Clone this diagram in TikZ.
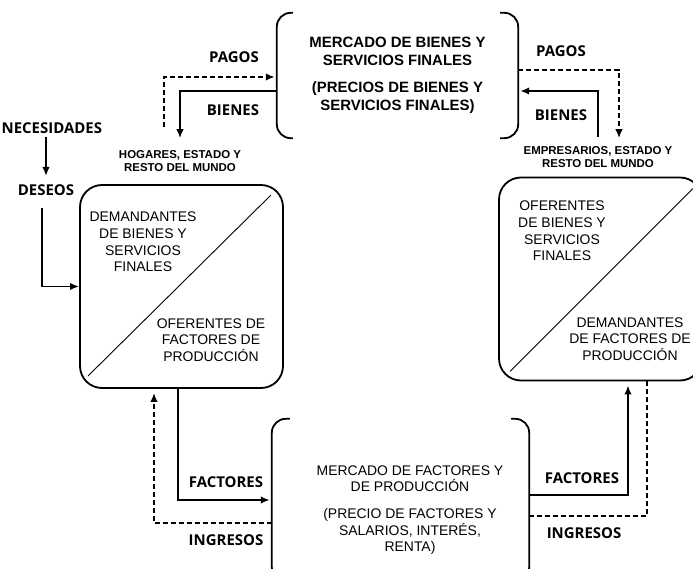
\documentclass[tikz,border=0pt]{standalone}
\usepackage{fontspec}
\setmainfont{Liberation Sans}
\newfontfamily\rotfont{Open Sans}
\usepackage{tikz}
\usetikzlibrary{arrows.meta}

\begin{document}
\begin{tikzpicture}[x=1bp,y=-1bp,
		>={Latex[length=9bp,width=7.5bp]},
		flujo/.style={draw,line width=1.8bp},
		pago/.style={draw,line width=1.8bp,dash pattern=on 5bp off 3bp},
		rotulo/.style={font=\rotfont\bfseries\fontsize{15}{17}\selectfont},
		agente/.style={align=center,font=\bfseries\fontsize{11.5}{12.5}\selectfont},
		caja/.style={rectangle,draw,line width=1.8bp,rounded corners=22bp,minimum width=203bp,minimum height=203bp},
		texto/.style={align=center,font=\fontsize{14}{16.7}\selectfont},
		titulo/.style={align=center,font=\bfseries\fontsize{15}{18}\selectfont},
		mercado/.style={rectangle,inner sep=0pt},
		llave/.style={line width=1.8bp,rounded corners=14bp}]
			\useasboundingbox (0,0) rectangle (693,569);
			
			% mercados
			\node[mercado,titulo,minimum width=241bp,minimum height=125bp] (mbs) at (397.5,75.5) {MERCADO DE BIENES Y\\SERVICIOS FINALES\\[9bp](PRECIOS DE BIENES Y\\SERVICIOS FINALES)};
			\node[mercado,minimum width=257bp,minimum height=148bp] (mfp) at (400.5,493) {};
			\node[texto] (tmfp) at (410,510) {MERCADO DE FACTORES Y\\DE PRODUCCIÓN\\[10bp](PRECIO DE FACTORES Y\\SALARIOS, INTERÉS,\\RENTA)};
			\draw[llave] ([xshift=16bp]mbs.north west) -- (mbs.north west) -- (mbs.south west) -- ([xshift=16bp]mbs.south west);
			\draw[llave] ([xshift=-18bp]mbs.north east) -- (mbs.north east) -- (mbs.south east) -- ([xshift=-18bp]mbs.south east);
			\draw[llave] ([xshift=18bp]mfp.north west) -- (mfp.north west) -- ([yshift=-14bp]mfp.south west) -- ([xshift=18bp,yshift=-14bp]mfp.south west);
			\draw[llave] ([xshift=-18bp]mfp.north east) -- (mfp.north east) -- ([yshift=-14bp]mfp.south east) -- ([xshift=-18bp,yshift=-14bp]mfp.south east);
			
			% agentes
			\node[agente] (hogl) at (180,161) {HOGARES, ESTADO Y\\RESTO DEL MUNDO};
			\node[agente] (empl) at (598,157) {EMPRESARIOS, ESTADO Y\\RESTO DEL MUNDO};
			\node[caja] (hog) at (181.5,286.5) {};
			\node[caja] (emp) at (600.5,279) {};
			\draw[line width=0.9bp] ([shift={(9,-13)}]hog.south west) -- ([shift={(-13,11)}]hog.north east);
			\draw[line width=0.9bp] ([shift={(12,-10)}]emp.south west) -- ([shift={(-10,12)}]emp.north east);
			\node[texto] (dbs) at (143,242) {DEMANDANTES\\DE BIENES Y\\SERVICIOS\\FINALES};
			\node[texto] (ofp) at (211,340) {OFERENTES DE\\FACTORES DE\\PRODUCCIÓN};
			\node[texto] (obs) at (562,231) {OFERENTES\\DE BIENES Y\\SERVICIOS\\FINALES};
			\node[texto] (dfp) at (630,339) {DEMANDANTES\\DE FACTORES DE\\PRODUCCIÓN};
			
			\node[rotulo,anchor=west,inner sep=0.5bp] (nec) at (1,128) {NECESIDADES};
			\node[rotulo] (des) at (46,190) {DESEOS};
			\coordinate (pagoH) at (164,127);
			
			% flujos de arriba
			\path[->,pago,shorten >=2bp] (pagoH) |- ([yshift=-1.5bp]mbs.west);
			\path[->,flujo] ([yshift=-15.5bp]mbs.west) -| ([yshift=9bp]hogl.north);
			\path[->,pago] ([yshift=5.5bp]mbs.east) -| ([xshift=21bp,yshift=5bp]empl.north);
			\path[->,flujo,shorten >=2bp] ([yshift=6bp]empl.north) |- ([yshift=-15.5bp]mbs.east);
			\node[rotulo] (pagosI) at (234,57) {PAGOS};
			\node[rotulo] (bienesI) at (233,110) {BIENES};
			\node[rotulo] (pagosD) at (561,51) {PAGOS};
			\node[rotulo] (bienesD) at (561,115) {BIENES};
			
			\path[->,flujo,shorten >=5bp] ([yshift=-3bp]des.north |- nec.south) -- (des.north);
			\path[->,flujo] ([xshift=-4bp,yshift=-9bp]des.south) |- (hog.west);
			
			% flujos de abajo
			\path[->,flujo,shorten >=2bp] ([xshift=-3.5bp]hog.south) |- ([yshift=-7bp]mfp.west);
			\path[->,pago,shorten >=4bp] ([yshift=-30bp]mfp.west) -| ([xshift=-27.5bp]hog.south);
			\path[->,flujo,shorten >=4bp] ([yshift=-2bp]mfp.east) -| ([xshift=27.5bp]emp.south);
			\path[pago] ([xshift=46.5bp]emp.south) |- ([yshift=-23bp]mfp.east);
			\node[rotulo] (factI) at (226,482) {FACTORES};
			\node[rotulo] (ingI) at (226,540) {INGRESOS};
			\node[rotulo] (factD) at (582,478) {FACTORES};
			\node[rotulo] (ingD) at (584,533) {INGRESOS};
		\end{tikzpicture}
\end{document}
